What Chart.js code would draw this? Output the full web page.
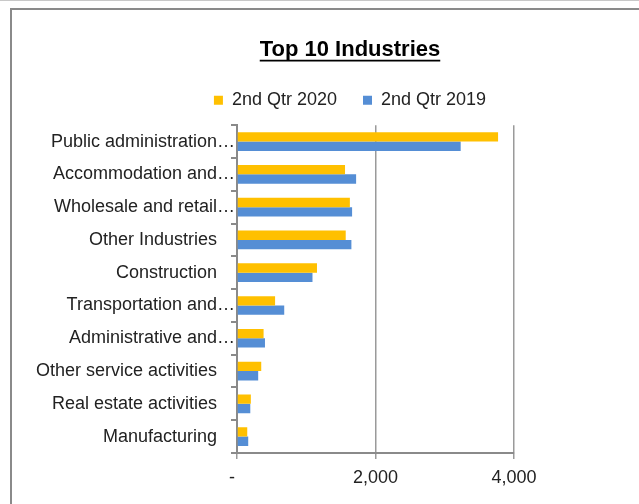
<!DOCTYPE html>
<html>
<head>
<meta charset="utf-8">
<script src="https://cdn.jsdelivr.net/npm/chart.js@4.4.1/dist/chart.umd.min.js"></script>
<style>
  html, body { margin: 0; padding: 0; background: #fff; overflow: hidden; width: 639px; height: 504px; }
  #topline { position: absolute; left: 0; top: 0; width: 639px; height: 1px; background: #c8c8c8; }
  #frame { position: absolute; left: 10px; top: 8px; width: 700px; height: 600px;
           border-left: 2px solid #8a8a8a; border-top: 2px solid #8a8a8a; }
  #wrap { position: absolute; left: 0; top: 0; width: 700px; height: 504px; }
</style>
</head>
<body>
<div id="topline"></div>
<div id="frame"></div>
<div id="wrap"><canvas id="chart"></canvas></div>
<script>
var titleText = "Top 10 Industries";
var categories = [
  "Public administration…",
  "Accommodation and…",
  "Wholesale and retail…",
  "Other Industries",
  "Construction",
  "Transportation and…",
  "Administrative and…",
  "Other service activities",
  "Real estate activities",
  "Manufacturing"
];
var seriesNames = ["2nd Qtr 2020", "2nd Qtr 2019"];
var q2020 = [3770, 1560, 1630, 1570, 1155, 550, 384, 350, 200, 148];
var q2019 = [3230, 1720, 1662, 1652, 1090, 682, 404, 306, 192, 162];
var xTicks = [0, 2000, 4000];

var font = "'Liberation Sans', Arial, sans-serif";

// underline under the title
var underline = {
  id: 'underline',
  afterDraw: function(chart) {
    var t = chart.titleBlock;
    var ctx = chart.ctx;
    ctx.save();
    ctx.font = 'bold 22px ' + font;
    var w = ctx.measureText(titleText).width;
    var cx = (t.left + t.right) / 2;
    var y = t.top + t._padding.top + 13.2 + 10.5;
    ctx.strokeStyle = '#000';
    ctx.lineWidth = 1.8;
    ctx.beginPath();
    ctx.moveTo(cx - w / 2, y);
    ctx.lineTo(cx + w / 2, y);
    ctx.stroke();
    ctx.restore();
  }
};

var ctx = document.getElementById("chart");
var myChart = new Chart(ctx, {
  type: 'bar',
  data: {
    labels: categories,
    datasets: [
      { label: seriesNames[0], data: q2020, backgroundColor: "#FFC000" },
      { label: seriesNames[1], data: q2019, backgroundColor: "#558ED5" }
    ]
  },
  options: {
    indexAxis: 'y',
    responsive: true,
    maintainAspectRatio: false,
    animation: false,
    categoryPercentage: 0.57,
    barPercentage: 1.0,
    layout: { padding: 0 },
    plugins: {
      title: {
        display: true,
        text: titleText,
        color: '#000',
        font: { family: font, size: 22, weight: 'bold' },
        padding: { top: 37, bottom: 1.8 }
      },
      legend: {
        position: 'top',
        labels: {
          color: '#222',
          font: { family: font, size: 18 },
          boxWidth: 9,
          boxHeight: 9,
          padding: 26
        }
      },
      tooltip: { enabled: false }
    },
    scales: {
      x: {
        min: 0,
        max: 4000,
        afterBuildTicks: function(s) { s.ticks = xTicks.map(function(v) { return { value: v }; }); },
        afterFit: function(s) { s.height = 51; },
        grid: { color: '#9a9a9a', lineWidth: 1.5, tickLength: 6 },
        border: { color: '#8a8a8a', width: 2 },
        ticks: {
          color: '#222',
          font: { family: font, size: 18 },
          padding: 8,
          maxRotation: 0,
          callback: function(v) { return v === 0 ? '-  ' : v.toLocaleString('en-US'); }
        }
      },
      xTop: {
        position: 'top',
        type: 'linear',
        display: true,
        grid: { display: false },
        border: { display: false },
        ticks: { display: false },
        afterFit: function(s) { s.height = 6; }
      },
      y: {
        afterFit: function(s) { s.width = 237; },
        grid: { drawOnChartArea: false, color: '#8a8a8a', lineWidth: 2, tickLength: 6 },
        border: { color: '#8a8a8a', width: 2 },
        ticks: {
          color: '#222',
          font: { family: font, size: 18 },
          padding: -4,
          callback: function(v, i) {
            var l = categories[i];
            return l.endsWith('…') ? l : l + '\u2003';
          }
        }
      },
      yRight: {
        position: 'right',
        type: 'linear',
        display: true,
        grid: { display: false },
        border: { display: false },
        ticks: { display: false },
        afterFit: function(s) { s.width = 186; }
      }
    }
  },
  plugins: [underline]
});
</script>
</body>
</html>
